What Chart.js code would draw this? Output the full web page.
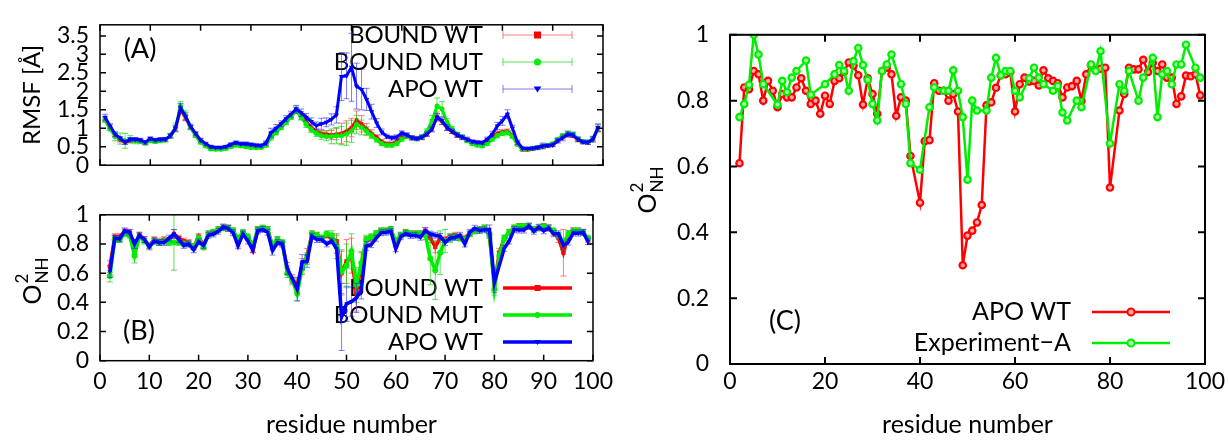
<!DOCTYPE html>
<html>
<head>
<meta charset="utf-8">
<script src="https://cdn.jsdelivr.net/npm/chart.js@4.4.1/dist/chart.umd.min.js"></script>
<style>
  html, body { margin: 0; padding: 0; background: #fff; }
  #wrap { position: relative; width: 1229px; height: 440px; overflow: hidden; background: #fff; }
  canvas { position: absolute; }
</style>
</head>
<body>
<div id="wrap">
  <canvas id="panelA" width="620" height="190" style="left:0;top:0;width:620px;height:190px"></canvas>
  <canvas id="panelB" width="620" height="250" style="left:0;top:190px;width:620px;height:250px"></canvas>
  <canvas id="panelC" width="609" height="440" style="left:620px;top:0;width:609px;height:440px"></canvas>
</div>
<script>
// ---------------- data ----------------
// Panel A: RMSF per residue (residues 1..99)
const rmsfFirstResidue = 1;
const rmsfBoundWt = [
  1.25,1.00,0.80,0.68,0.62,0.66,0.68,0.66,0.60,0.68,
  0.66,0.68,0.70,0.78,0.98,1.50,1.28,1.02,0.82,0.64,
  0.55,0.47,0.45,0.45,0.47,0.52,0.56,0.54,0.52,0.51,
  0.50,0.50,0.56,0.80,0.92,1.05,1.18,1.32,1.48,1.32,
  1.18,1.02,0.92,0.86,0.84,0.82,0.84,0.86,0.92,1.02,
  1.22,1.12,0.98,0.86,0.76,0.64,0.58,0.58,0.64,0.76,
  0.80,0.74,0.72,0.74,0.84,0.98,1.32,1.18,1.00,0.90,
  0.80,0.74,0.68,0.62,0.58,0.58,0.66,0.76,0.86,0.90,
  0.92,0.80,0.58,0.42,0.42,0.44,0.46,0.50,0.52,0.55,
  0.66,0.76,0.82,0.80,0.68,0.62,0.62,0.70,0.98
];
const rmsfBoundWtErr = [
  0.06,0.05,0.05,0.05,0.05,0.05,0.05,0.05,0.05,0.05,
  0.05,0.05,0.05,0.05,0.06,0.10,0.08,0.05,0.05,0.05,
  0.04,0.04,0.04,0.04,0.04,0.04,0.04,0.04,0.04,0.04,
  0.04,0.04,0.05,0.08,0.08,0.06,0.06,0.06,0.08,0.08,
  0.08,0.08,0.08,0.08,0.10,0.12,0.15,0.28,0.28,0.25,
  0.25,0.22,0.15,0.10,0.06,0.05,0.05,0.05,0.05,0.05,
  0.05,0.05,0.05,0.05,0.05,0.06,0.12,0.08,0.06,0.05,
  0.05,0.05,0.05,0.04,0.04,0.04,0.05,0.05,0.06,0.06,
  0.06,0.05,0.04,0.04,0.04,0.04,0.04,0.05,0.04,0.04,
  0.05,0.05,0.05,0.05,0.05,0.04,0.05,0.05,0.08
];
const rmsfBoundMut = [
  1.22,0.98,0.78,0.72,0.66,0.70,0.66,0.64,0.60,0.66,
  0.64,0.66,0.68,0.80,1.02,1.60,1.35,1.02,0.80,0.62,
  0.52,0.44,0.43,0.43,0.45,0.50,0.54,0.52,0.50,0.48,
  0.47,0.48,0.54,0.76,0.88,1.02,1.16,1.30,1.50,1.30,
  1.10,0.96,0.86,0.80,0.78,0.78,0.80,0.80,0.84,0.92,
  1.10,1.02,0.92,0.80,0.68,0.58,0.54,0.54,0.58,0.70,
  0.78,0.74,0.72,0.76,0.92,1.20,1.60,1.52,1.16,0.98,
  0.84,0.76,0.66,0.58,0.54,0.52,0.58,0.70,0.80,0.86,
  0.88,0.78,0.56,0.44,0.44,0.46,0.48,0.52,0.54,0.58,
  0.70,0.80,0.86,0.84,0.72,0.64,0.62,0.72,1.00
];
const rmsfBoundMutErr = [
  0.06,0.05,0.12,0.15,0.20,0.10,0.08,0.06,0.05,0.05,
  0.05,0.05,0.05,0.06,0.12,0.12,0.12,0.06,0.05,0.05,
  0.04,0.04,0.04,0.04,0.04,0.04,0.04,0.04,0.04,0.04,
  0.04,0.04,0.05,0.08,0.06,0.06,0.06,0.06,0.10,0.08,
  0.08,0.08,0.08,0.10,0.12,0.20,0.22,0.25,0.30,0.30,
  0.25,0.20,0.12,0.08,0.05,0.05,0.05,0.05,0.05,0.05,
  0.05,0.05,0.05,0.05,0.06,0.15,0.22,0.20,0.10,0.06,
  0.05,0.05,0.05,0.04,0.04,0.04,0.05,0.05,0.06,0.06,
  0.06,0.05,0.04,0.04,0.04,0.04,0.04,0.05,0.04,0.04,
  0.05,0.05,0.06,0.06,0.05,0.04,0.05,0.06,0.10
];
const rmsfApoWt = [
  1.30,1.06,0.84,0.73,0.62,0.70,0.70,0.68,0.62,0.72,
  0.68,0.70,0.70,0.80,1.00,1.55,1.32,1.05,0.86,0.68,
  0.58,0.50,0.48,0.48,0.50,0.56,0.61,0.58,0.58,0.56,
  0.54,0.53,0.60,0.88,1.00,1.12,1.26,1.38,1.52,1.42,
  1.30,1.18,1.07,1.12,1.16,1.24,1.36,2.40,2.42,2.65,
  2.14,2.05,1.78,1.45,1.14,0.90,0.78,0.74,0.76,0.87,
  0.82,0.74,0.72,0.76,0.84,0.98,1.30,1.20,1.02,0.92,
  0.82,0.76,0.70,0.64,0.62,0.61,0.70,0.84,1.06,1.20,
  1.38,1.00,0.62,0.46,0.45,0.46,0.48,0.52,0.53,0.55,
  0.66,0.74,0.84,0.82,0.70,0.63,0.62,0.70,1.02
];
const rmsfApoWtErr = [
  0.08,0.06,0.06,0.05,0.06,0.05,0.05,0.05,0.05,0.05,
  0.05,0.05,0.05,0.06,0.08,0.12,0.10,0.06,0.05,0.05,
  0.04,0.04,0.04,0.04,0.04,0.05,0.05,0.05,0.05,0.05,
  0.05,0.05,0.06,0.12,0.10,0.08,0.08,0.08,0.10,0.10,
  0.10,0.10,0.10,0.15,0.12,0.15,0.22,0.65,0.62,0.92,
  0.62,0.55,0.30,0.20,0.12,0.08,0.06,0.06,0.06,0.06,
  0.06,0.06,0.06,0.06,0.06,0.08,0.10,0.10,0.08,0.06,
  0.06,0.06,0.06,0.05,0.05,0.05,0.06,0.08,0.10,0.12,
  0.12,0.08,0.06,0.04,0.04,0.04,0.05,0.08,0.05,0.05,
  0.06,0.08,0.08,0.06,0.05,0.05,0.06,0.08,0.10
];

// Order parameters O2_NH (residues 2..99); null = residue without a value
const o2FirstResidue = 2;
const o2ApoWt = [
  0.61,0.84,0.835,0.89,0.88,0.80,0.86,0.83,0.78,
  0.82,0.81,0.81,0.84,0.868,0.83,0.79,0.80,0.76,0.815,
  0.79,0.86,0.868,0.887,0.916,0.906,0.877,0.788,0.868,0.82,
  0.76,0.89,0.90,0.88,0.754,0.81,0.80,0.632,null,0.49,
  0.677,0.68,0.853,0.83,0.83,0.80,0.82,0.767,0.30,0.39,
  0.405,0.43,0.483,0.786,0.795,0.839,0.877,0.88,0.887,0.767,
  0.85,0.87,0.858,0.86,0.846,0.892,0.868,0.86,0.853,0.81,
  0.84,0.844,0.86,0.80,0.88,0.908,0.892,0.897,0.90,0.536,
  null,0.77,0.82,0.90,0.895,0.895,0.924,0.887,0.915,0.89,
  0.91,0.87,0.87,0.79,0.813,0.876,0.874,0.88,0.816
];
const o2ApoWtErr = [
  0.04,0.02,0.02,0.02,0.02,0.03,0.02,0.02,0.02,
  0.02,0.02,0.02,0.02,0.03,0.02,0.02,0.02,0.02,0.02,
  0.02,0.02,0.02,0.02,0.02,0.02,0.02,0.02,0.02,0.02,
  0.02,0.02,0.02,0.02,0.03,0.02,0.02,0.04,0.05,0.08,
  0.05,0.04,0.02,0.02,0.02,0.02,0.02,0.03,0.23,0.12,
  0.10,0.10,0.06,0.03,0.02,0.02,0.02,0.02,0.02,0.02,
  0.02,0.02,0.02,0.02,0.02,0.02,0.02,0.02,0.02,0.02,
  0.02,0.02,0.02,0.02,0.02,0.02,0.02,0.02,0.03,0.07,
  0.03,0.02,0.02,0.02,0.02,0.02,0.02,0.02,0.02,0.02,
  0.02,0.02,0.02,0.03,0.02,0.02,0.02,0.02,0.02
];
const o2BoundWt = [
  0.645,0.85,0.85,0.885,0.88,0.76,0.86,0.83,0.79,
  0.83,0.82,0.83,0.82,0.87,0.84,0.82,0.81,0.78,0.85,
  0.79,0.87,0.88,0.90,0.915,0.91,0.89,0.81,0.87,0.84,
  0.76,0.90,0.905,0.90,0.78,0.83,0.80,0.62,0.56,0.52,
  0.65,0.72,0.87,0.86,0.84,0.86,0.84,0.82,0.60,0.68,
  0.72,0.46,0.66,0.82,0.84,0.87,0.89,0.89,0.90,0.80,
  0.86,0.88,0.87,0.87,0.87,0.89,0.84,0.78,0.84,0.83,
  0.85,0.86,0.85,0.84,0.87,0.89,0.90,0.91,0.86,0.52,
  0.74,0.84,0.88,0.91,0.92,0.92,0.92,0.90,0.91,0.92,
  0.91,0.88,0.84,0.74,0.86,0.89,0.89,0.88,0.83
];
const o2BoundWtErr = [
  0.04,0.02,0.02,0.02,0.02,0.03,0.02,0.02,0.02,
  0.02,0.02,0.02,0.02,0.03,0.02,0.02,0.02,0.02,0.02,
  0.02,0.02,0.02,0.02,0.02,0.02,0.02,0.03,0.02,0.02,
  0.02,0.02,0.02,0.02,0.02,0.02,0.02,0.03,0.03,0.04,
  0.05,0.05,0.02,0.02,0.02,0.02,0.03,0.05,0.15,0.15,
  0.12,0.12,0.08,0.03,0.02,0.02,0.02,0.02,0.02,0.02,
  0.02,0.02,0.02,0.02,0.02,0.02,0.03,0.04,0.03,0.02,
  0.02,0.02,0.02,0.02,0.02,0.02,0.02,0.02,0.02,0.04,
  0.03,0.02,0.02,0.02,0.02,0.02,0.02,0.02,0.02,0.02,
  0.02,0.02,0.03,0.16,0.03,0.02,0.02,0.02,0.02
];
const o2BoundMut = [
  0.58,0.83,0.83,0.87,0.86,0.72,0.85,0.82,0.79,
  0.82,0.81,0.82,0.81,0.81,0.81,0.80,0.80,0.78,0.84,
  0.78,0.87,0.88,0.90,0.91,0.91,0.89,0.84,0.88,0.85,
  0.79,0.90,0.91,0.90,0.79,0.83,0.81,0.60,0.55,0.46,
  0.63,0.70,0.87,0.86,0.84,0.87,0.86,0.78,0.61,0.65,
  0.75,0.52,0.67,0.83,0.85,0.87,0.89,0.89,0.90,0.82,
  0.86,0.88,0.87,0.87,0.87,0.86,0.70,0.62,0.74,0.82,
  0.84,0.85,0.84,0.83,0.87,0.89,0.90,0.91,0.86,0.49,
  0.72,0.84,0.88,0.91,0.92,0.92,0.92,0.90,0.91,0.92,
  0.91,0.89,0.86,0.80,0.87,0.89,0.89,0.88,0.84
];
const o2BoundMutErr = [
  0.04,0.02,0.02,0.02,0.02,0.05,0.02,0.02,0.02,
  0.02,0.02,0.02,0.02,0.19,0.02,0.02,0.02,0.02,0.02,
  0.02,0.02,0.02,0.02,0.02,0.02,0.02,0.02,0.02,0.02,
  0.02,0.02,0.02,0.02,0.02,0.02,0.02,0.03,0.03,0.05,
  0.04,0.04,0.02,0.02,0.02,0.02,0.03,0.08,0.15,0.15,
  0.12,0.12,0.08,0.03,0.02,0.02,0.02,0.02,0.02,0.02,
  0.02,0.02,0.02,0.02,0.02,0.03,0.18,0.20,0.15,0.08,
  0.03,0.02,0.02,0.02,0.02,0.02,0.02,0.02,0.02,0.04,
  0.03,0.02,0.02,0.02,0.02,0.02,0.02,0.02,0.02,0.02,
  0.02,0.02,0.02,0.04,0.02,0.02,0.02,0.02,0.02
];
const o2ExperimentA = [
  0.75,0.79,0.848,1.00,0.94,0.85,null,null,0.788,
  0.86,0.826,0.87,0.89,null,0.922,0.818,null,null,0.85,
  null,0.88,0.908,0.89,0.83,0.92,0.96,0.908,0.863,0.79,
  0.74,0.89,0.91,0.94,null,0.85,0.79,0.61,null,0.59,
  null,0.78,0.84,null,0.83,0.83,0.892,0.83,0.75,0.56,
  0.80,0.77,null,0.77,0.87,0.93,0.877,0.89,0.89,0.83,
  0.81,null,0.868,0.90,0.87,0.85,null,0.83,0.844,0.764,
  0.74,null,0.80,0.78,null,0.91,0.89,0.95,null,0.67,
  null,0.85,0.83,0.89,null,0.80,0.87,null,0.93,0.75,
  0.88,0.89,0.85,0.91,0.91,0.97,null,0.90,0.87
];

// axis ticks
const residueTicksAB = [0,10,20,30,40,50,60,70,80,90,100];
const residueTicksC = [0,20,40,60,80,100];
const rmsfTicks = [0,0.5,1,1.5,2,2.5,3,3.5];
const o2Ticks = [0,0.2,0.4,0.6,0.8,1];

// ---------------- drawing helpers ----------------
const FONT = 'Lato, "Open Sans", "DejaVu Sans", sans-serif';
const RED = '#ff0000', GREEN = '#00ee00', BLUE = '#0000ff';

function toPoints(first, values) {
  return values.map((v, i) => ({ x: first + i, y: v }));
}

function drawMarker(ctx, style, x, y, r, fill, stroke, bw) {
  ctx.save();
  ctx.beginPath();
  if (style === 'rect') {
    ctx.rect(x - r, y - r, 2 * r, 2 * r);
  } else if (style === 'triangleDown') {
    ctx.moveTo(x - r * 1.1, y - r * 0.7);
    ctx.lineTo(x + r * 1.1, y - r * 0.7);
    ctx.lineTo(x, y + r * 1.0);
    ctx.closePath();
  } else {
    ctx.arc(x, y, r, 0, Math.PI * 2);
  }
  ctx.fillStyle = fill; ctx.fill();
  if (bw) { ctx.lineWidth = bw; ctx.strokeStyle = stroke; ctx.stroke(); }
  ctx.restore();
}

// vertical error bars with small caps, drawn just before the series' own line
const errorBars = {
  id: 'errorBars',
  beforeDatasetDraw(chart, args) {
    const ds = chart.data.datasets[args.index];
    if (!ds.errors) return;
    const { ctx, chartArea: a } = chart;
    const ys = chart.scales.y;
    ctx.save();
    ctx.beginPath();
    ctx.rect(a.left, a.top, a.right - a.left, a.bottom - a.top);
    ctx.clip();
    ctx.strokeStyle = ds.errorColor;
    ctx.lineWidth = 1;
    ctx.beginPath();
    args.meta.data.forEach((pt, i) => {
      const v = ds.data[i].y, e = ds.errors[i];
      if (v == null || !e) return;
      const t = ys.getPixelForValue(v + e), b = ys.getPixelForValue(v - e);
      ctx.moveTo(pt.x, t); ctx.lineTo(pt.x, b);
      ctx.moveTo(pt.x - 3, t); ctx.lineTo(pt.x + 3, t);
      ctx.moveTo(pt.x - 3, b); ctx.lineTo(pt.x + 3, b);
    });
    ctx.stroke();
    ctx.restore();
  }
};

// box frame with inward ticks on all four sides
function frame(xTicks, yTicks, lw, len) {
  return {
    id: 'frame',
    afterDatasetsDraw(chart) {
      const { ctx, chartArea: a, scales: { x, y } } = chart;
      ctx.save();
      ctx.strokeStyle = '#000';
      ctx.lineWidth = lw;
      ctx.strokeRect(a.left, a.top, a.right - a.left, a.bottom - a.top);
      ctx.beginPath();
      xTicks.forEach(v => {
        const px = x.getPixelForValue(v);
        ctx.moveTo(px, a.bottom); ctx.lineTo(px, a.bottom - len);
        ctx.moveTo(px, a.top); ctx.lineTo(px, a.top + len);
      });
      yTicks.forEach(v => {
        const py = y.getPixelForValue(v);
        ctx.moveTo(a.left, py); ctx.lineTo(a.left + len, py);
        ctx.moveTo(a.right, py); ctx.lineTo(a.right - len, py);
      });
      ctx.stroke();
      ctx.restore();
    }
  };
}

// key, panel tag and axis titles (drawn under the data lines)
function decorations(cfg) {
  return {
    id: 'decorations',
    beforeDatasetsDraw(chart) {
      const ctx = chart.ctx;
      ctx.save();
      ctx.fillStyle = '#000';
      // panel tag
      ctx.font = '27px ' + FONT;
      ctx.textAlign = 'center';
      ctx.textBaseline = 'middle';
      ctx.fillText(cfg.tag.text, cfg.tag.x, cfg.tag.y);
      // key
      const k = cfg.key;
      chart.data.datasets.forEach((ds) => {
        const row = k.rows[ds.keyRow];
        ctx.font = k.fontSize + 'px ' + FONT;
        ctx.textAlign = 'right';
        ctx.textBaseline = 'middle';
        ctx.fillStyle = '#000';
        ctx.fillText(ds.label, k.textRight, row);
        const mid = (k.x1 + k.x2) / 2;
        ctx.beginPath();
        ctx.moveTo(k.x1, row); ctx.lineTo(k.x2, row);
        if (k.caps) {
          ctx.moveTo(k.x1, row - 4); ctx.lineTo(k.x1, row + 4);
          ctx.moveTo(k.x2, row - 4); ctx.lineTo(k.x2, row + 4);
        }
        ctx.strokeStyle = k.caps ? ds.errorColor : ds.borderColor;
        ctx.lineWidth = k.lineWidth;
        ctx.stroke();
        drawMarker(ctx, ds.markerKind, mid, row, k.markerSize,
          ds.pointBackgroundColor, ds.borderColor, k.markerBorder);
      });
      // y-axis title (rotated)
      const t = cfg.yTitle;
      ctx.save();
      ctx.translate(t.x, t.y);
      ctx.rotate(-Math.PI / 2);
      ctx.fillStyle = '#000';
      ctx.textBaseline = 'alphabetic';
      if (t.kind === 'o2') {
        ctx.font = '25px ' + FONT;
        const wO = ctx.measureText('O').width;
        ctx.font = '17px ' + FONT;
        const wS = Math.max(ctx.measureText('2').width, ctx.measureText('NH').width);
        const total = wO + wS + 1;
        const x0 = -total / 2;
        ctx.textAlign = 'left';
        ctx.font = '25px ' + FONT;
        ctx.fillText('O', x0, 9);
        ctx.font = '17px ' + FONT;
        ctx.fillText('2', x0 + wO + 1, -4);
        ctx.fillText('NH', x0 + wO + 1, 16);
      } else {
        ctx.font = '24px ' + FONT;
        ctx.textAlign = 'center';
        ctx.fillText(t.text, 0, 8);
      }
      ctx.restore();
      // x-axis title
      if (cfg.xTitle) {
        ctx.font = '25px ' + FONT;
        ctx.textAlign = 'center';
        ctx.textBaseline = 'middle';
        ctx.fillStyle = '#000';
        ctx.fillText(cfg.xTitle.text, cfg.xTitle.x, cfg.xTitle.y);
      }
      ctx.restore();
    }
  };
}

function axes(xTicks, yTicks, xMax, yMax, yWidth, xHeight, yPad, xPad, showX) {
  const tickFont = { family: FONT, size: 23 };
  return {
    x: {
      type: 'linear', min: 0, max: xMax,
      grid: { display: false, drawTicks: false },
      border: { display: false },
      afterBuildTicks: s => { s.ticks = xTicks.map(v => ({ value: v })); },
      afterFit: s => { s.height = xHeight; },
      ticks: { display: showX, font: tickFont, color: '#000', padding: xPad,
               autoSkip: false, maxRotation: 0, callback: v => String(v) }
    },
    y: {
      type: 'linear', min: 0, max: yMax,
      grid: { display: false, drawTicks: false },
      border: { display: false },
      afterBuildTicks: s => { s.ticks = yTicks.map(v => ({ value: v })); },
      afterFit: s => { s.width = yWidth; },
      ticks: { font: tickFont, color: '#000', padding: yPad, autoSkip: false,
               callback: v => String(v) }
    }
  };
}

function seriesSet(first, arr, err, color, errColor, kind, order, row, lw, radius, label) {
  const styleMap = { rect: 'rect', circle: 'circle', triangleDown: 'triangle' };
  return {
    label: label,
    data: toPoints(first, arr),
    errors: err,
    errorColor: errColor,
    markerKind: kind,
    keyRow: row,
    order: order,
    borderColor: color,
    backgroundColor: color,
    borderWidth: lw,
    pointStyle: styleMap[kind],
    rotation: kind === 'triangleDown' ? 180 : 0,
    pointRadius: radius,
    pointBackgroundColor: color,
    pointBorderColor: color,
    pointBorderWidth: 0,
    tension: 0,
    spanGaps: true
  };
}

Chart.defaults.font.family = FONT;

const baseOptions = (padding, scales) => ({
  responsive: false,
  animation: false,
  events: [],
  layout: { padding: padding },
  plugins: { legend: { display: false }, tooltip: { enabled: false }, title: { display: false } },
  scales: scales
});

// ---------------- panel A: RMSF ----------------
new Chart(document.getElementById('panelA'), {
  type: 'line',
  data: {
    datasets: [
      seriesSet(rmsfFirstResidue, rmsfApoWt, rmsfApoWtErr, BLUE, 'rgba(40,40,255,0.6)', 'triangleDown', 0, 2, 3, 3, 'APO WT'),
      seriesSet(rmsfFirstResidue, rmsfBoundMut, rmsfBoundMutErr, GREEN, 'rgba(0,210,0,0.65)', 'circle', 1, 1, 3, 2.5, 'BOUND MUT'),
      seriesSet(rmsfFirstResidue, rmsfBoundWt, rmsfBoundWtErr, RED, 'rgba(255,40,40,0.6)', 'rect', 2, 0, 3, 2.5, 'BOUND WT')
    ]
  },
  options: baseOptions({ top: 17, right: 17, left: 0, bottom: 0 },
    axes(residueTicksAB, rmsfTicks, 100, 3.8, 100, 18.5, 11, 4, false)),
  plugins: [errorBars, frame(residueTicksAB, rmsfTicks, 1.5, 6), decorations({
    tag: { text: '(A)', x: 140, y: 49 },
    key: { rows: [35, 62, 89], textRight: 483, x1: 503, x2: 572, fontSize: 24,
           caps: true, lineWidth: 1, markerSize: 3.5, markerBorder: 0 },
    yTitle: { kind: 'text', text: 'RMSF [Å]', x: 32, y: 95 }
  })]
});

// ---------------- panel B: O2 (simulations) ----------------
new Chart(document.getElementById('panelB'), {
  type: 'line',
  data: {
    datasets: [
      seriesSet(o2FirstResidue, o2ApoWt, o2ApoWtErr, BLUE, 'rgba(40,40,255,0.6)', 'triangleDown', 0, 2, 3.5, 2.5, 'APO WT'),
      seriesSet(o2FirstResidue, o2BoundMut, o2BoundMutErr, GREEN, 'rgba(0,210,0,0.65)', 'circle', 1, 1, 3.5, 3, 'BOUND MUT'),
      seriesSet(o2FirstResidue, o2BoundWt, o2BoundWtErr, RED, 'rgba(255,40,40,0.6)', 'rect', 2, 0, 3.5, 3, 'BOUND WT')
    ]
  },
  options: baseOptions({ top: 16.5, right: 17, left: 0, bottom: 0 },
    axes(residueTicksAB, o2Ticks, 100, 1, 100, 79.3, 11, 7, true)),
  plugins: [errorBars, frame(residueTicksAB, o2Ticks, 1.5, 6), decorations({
    tag: { text: '(B)', x: 139, y: 141 },
    key: { rows: [98, 125, 152], textRight: 483, x1: 503, x2: 572, fontSize: 24,
           caps: false, lineWidth: 3.5, markerSize: 3, markerBorder: 0 },
    yTitle: { kind: 'o2', x: 32, y: 91 },
    xTitle: { text: 'residue number', x: 351.5, y: 235 }
  })]
});

// ---------------- panel C: O2 simulation vs experiment ----------------
function circleSeries(arr, color, fill, order, row, label) {
  return {
    label: label,
    data: toPoints(o2FirstResidue, arr),
    markerKind: 'circle',
    keyRow: row,
    order: order,
    borderColor: color,
    backgroundColor: color,
    borderWidth: 2.5,
    pointStyle: 'circle',
    pointRadius: 3.2,
    pointBackgroundColor: fill,
    pointBorderColor: color,
    pointBorderWidth: 2.2,
    tension: 0,
    spanGaps: true
  };
}
new Chart(document.getElementById('panelC'), {
  type: 'line',
  data: {
    datasets: [
      circleSeries(o2ExperimentA, GREEN, '#a8ffa8', 0, 1, 'Experiment\u2212A'),
      circleSeries(o2ApoWt, RED, '#ffa8a8', 1, 0, 'APO WT')
    ]
  },
  options: baseOptions({ top: 17.5, right: 24, left: 0, bottom: 0 },
    axes(residueTicksC, o2Ticks, 100, 1, 110, 76, 21, 4, true)),
  plugins: [frame(residueTicksC, o2Ticks, 2, 7), decorations({
    tag: { text: '(C)', x: 165, y: 321 },
    key: { rows: [312, 343], textRight: 451, x1: 472, x2: 550, fontSize: 25,
           caps: false, lineWidth: 2.5, markerSize: 3.5, markerBorder: 2 },
    yTitle: { kind: 'o2', x: 27, y: 190 },
    xTitle: { text: 'residue number', x: 347.5, y: 425 }
  })]
});
</script>
</body>
</html>
